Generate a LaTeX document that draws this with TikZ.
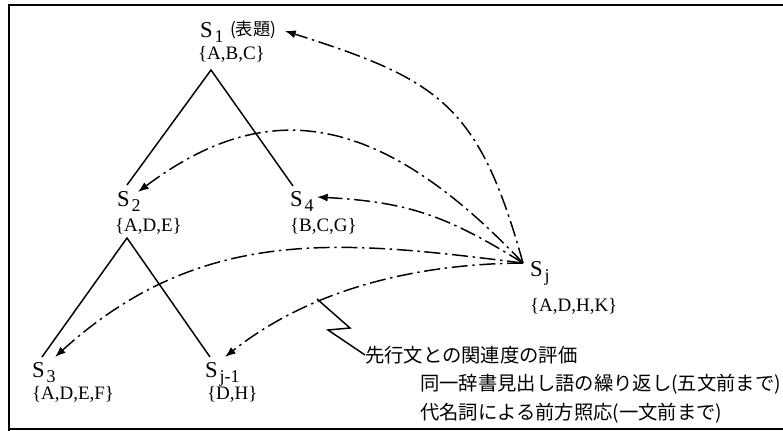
\documentclass[tikz,border=0pt]{standalone}
\usepackage{fontspec}
\setmainfont{Liberation Serif}
\newfontfamily\jpfont{Noto Sans CJK JP}
\usetikzlibrary{arrows.meta}
\newcommand\SLabel[1]{{\fontsize{17}{20}\selectfont S}\kern1.6pt\raisebox{-3.6pt}{\fontsize{13.5}{16}\selectfont #1}}
\tikzset{
  lbl/.style={inner sep=0pt, outer sep=0pt, anchor=base west, font=\fontsize{14.25}{17}\selectfont},
  jp/.style={inner sep=0pt, outer sep=0pt, anchor=west, font=\jpfont\fontsize{14.5}{17}\selectfont},
  tree/.style={line width=1.1pt},
  ref/.style={line width=1.1pt, dash pattern=on 12pt off 3.5pt on 1.8pt off 3.5pt, -{Latex[length=8pt,width=6pt]}},
  frame/.style={line width=1.1pt}
}
\begin{document}
\begin{tikzpicture}[x=0.75pt,y=-0.75pt]
\useasboundingbox (0,0) rectangle (783,431);
% frame
\draw[frame] (783,5) -- (9,5) -- (9,431);
\draw[frame] (9,429) -- (783,429);
% labels
\node[lbl] (s1) at (200,38) {\SLabel{1}};
\node[lbl, font=\jpfont\fontsize{13}{16}\selectfont] (s1title) at (230,36) {(表題)};
\node[lbl] (s1set) at (198,60) {\{A,B,C\}};
\node[lbl] (s2) at (117,207) {\SLabel{2}};
\node[lbl] (s2set) at (115,232) {\{A,D,E\}};
\node[lbl] (s4) at (290,207) {\SLabel{4}};
\node[lbl] (s4set) at (290,232) {\{B,C,G\}};
\node[lbl] (s3) at (32,378) {\SLabel{3}};
\node[lbl] (s3set) at (32,400) {\{A,D,E,F\}};
\node[lbl] (sjm) at (205,378) {\SLabel{j-1}};
\node[lbl] (sjmset) at (207,400) {\{D,H\}};
\node[lbl] (sj) at (530,277) {\SLabel{j}};
\node[lbl] (sjset) at (530,312) {\{A,D,H,K\}};
\node[jp] (eval1) at (365,355) {先行文との関連度の評価};
\node[jp] (eval2) at (420,384) {同一辞書見出し語の繰り返し(五文前まで)};
\node[jp] (eval3) at (420,413) {代名詞による前方照応(一文前まで)};
% tree coordinates
\coordinate (apexA) at (211,70);
\coordinate (s2top) at (127,185);
\coordinate (s4top) at (293,186);
\coordinate (apexB) at (127,238);
\coordinate (s3top) at (42,357);
\coordinate (sjmtop) at (210,357);
\draw[tree] (s2top) -- (apexA) -- (s4top);
\draw[tree] (s3top) -- (apexB) -- (sjmtop);
% reference arrows
\coordinate (hub) at (523,263);
\coordinate (t1) at (285,31);
\coordinate (t2) at (138,192);
\coordinate (t4) at (317,197);
\coordinate (t3) at (55,357);
\coordinate (t5) at (225,357);
\draw[ref] (hub) .. controls (479,105) and (440,80) .. (t1);
\draw[ref] (hub) .. controls (378,110) and (266,96) .. (t2);
\draw[ref] (hub) .. controls (446,215) and (407,202) .. (t4);
\draw[ref] (hub) .. controls (345,241) and (203,223) .. (t3);
\draw[ref] (hub) .. controls (403,264) and (303,295) .. (t5);
% zigzag
\coordinate (z0) at (317,299);
\draw[tree] (z0) -- (350,328) -- (328,330) -- (eval1.west);
\end{tikzpicture}
\end{document}
